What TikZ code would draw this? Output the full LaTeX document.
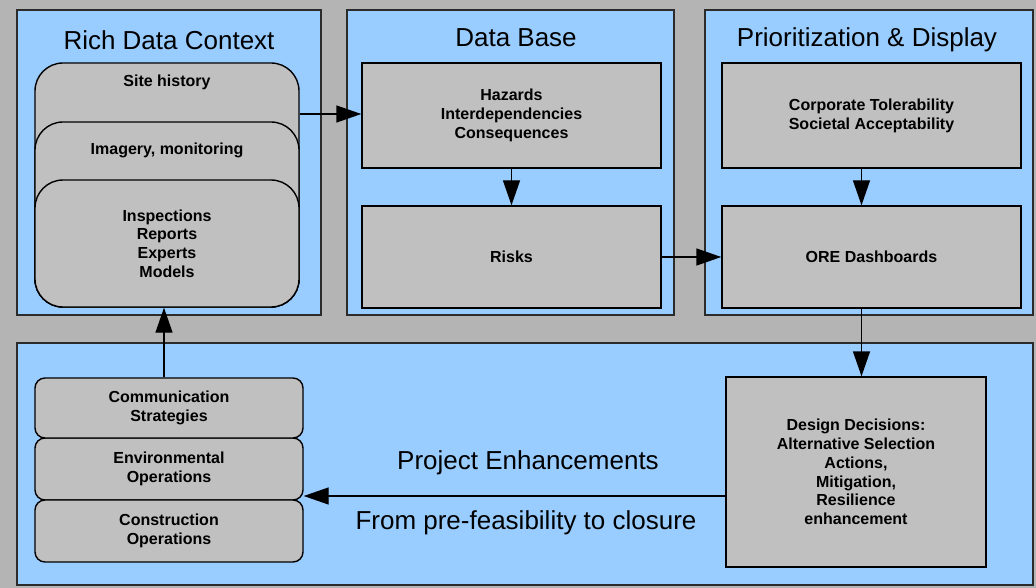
\documentclass[tikz,border=0pt]{standalone}
\usepackage{fontspec}
\setmainfont{Liberation Sans}
\usetikzlibrary{arrows.meta,calc}
\definecolor{bggray}{HTML}{B4B4B4}
\definecolor{panelblue}{HTML}{99CCFF}
\definecolor{boxgray}{HTML}{C0C0C0}
\definecolor{edgedark}{HTML}{2B2B2B}
\begin{document}
\begin{tikzpicture}[x=1pt,y=-1pt,
  panel/.style={draw=edgedark,line width=1.4pt,fill=panelblue,inner sep=0pt,minimum width=#1},
  title/.style={font=\fontsize{26}{30}\selectfont,text=black},
  sq/.style={draw=black,line width=1.4pt,fill=boxgray,inner sep=0pt,align=center,
    font=\fontsize{16}{18.8}\selectfont\bfseries},
  rbig/.style={sq,rounded corners=28pt},
  rsmall/.style={sq,rounded corners=10pt},
  lbl/.style={font=\fontsize{16}{18.8}\selectfont\bfseries,align=center,inner sep=0pt},
  big/.style={font=\fontsize{26}{30}\selectfont,inner sep=0pt},
  arr/.style={line width=1.4pt,-{Triangle[length=25pt,width=17pt]}}
]
\fill[bggray] (0,0) rectangle (1036,588);
\useasboundingbox (0,0) rectangle (1036,588);

% panels
\node[panel=304pt,minimum height=305pt] (rich) at (169,162.5) {};
\node[panel=327pt,minimum height=305pt] (db) at (510.5,162.5) {};
\node[panel=328pt,minimum height=305pt] (prio) at (869,162.5) {};
\node[panel=1016pt,minimum height=242pt] (bottom) at (525,464) {};

% titles
\node[title] (richT) at (169,40) {Rich Data Context};
\node[title] (dbT) at (516,38) {Data Base};
\node[title] (prioT) at (867,40) {Prioritization \& Display};

% rich data stack
\node[rbig,minimum width=264pt,minimum height=244pt] (site) at (167,185) {};
\node[lbl] (siteT) at (167,82) {Site history};
\node[rbig,minimum width=264pt,minimum height=185pt] (imag) at (167,214.5) {};
\node[lbl] (imagT) at (167,150) {Imagery, monitoring};
\node[rbig,minimum width=264pt,minimum height=127pt] (insp) at (167,243.5) {Inspections\\Reports\\Experts\\Models};

% data base
\node[sq,minimum width=299pt,minimum height=105pt] (haz) at (511.5,115.5) {Hazards\\Interdependencies\\Consequences};
\node[sq,minimum width=299pt,minimum height=102pt] (risk) at (511.5,257) {Risks};

% prioritization
\node[sq,minimum width=299pt,minimum height=105pt] (corp) at (871.5,115.5) {Corporate Tolerability\\Societal Acceptability};
\node[sq,minimum width=299pt,minimum height=102pt] (ore) at (871.5,257) {ORE Dashboards};

% design decisions
\node[sq,minimum width=260pt,minimum height=190pt] (design) at (856,472) {Design Decisions:\\Alternative Selection\\Actions,\\Mitigation,\\Resilience\\enhancement};

% left stack
\node[rsmall,minimum width=268pt,minimum height=62pt] (env) at (169,469) {Environmental\\Operations};
\node[rsmall,minimum width=268pt,minimum height=62pt] (cons) at (169,531) {Construction\\Operations};
\node[rsmall,minimum width=268pt,minimum height=60pt] (comm) at (169,408) {Communication\\Strategies};

% labels
\node[big] (projT) at (528,463) {Project Enhancements};
\node[big] (fromT) at (526,523) {From pre-feasibility to closure};

% connectors
\draw[arr] ($(haz.west -| site.east)+(0,-1.5)$) -- ($(haz.west)+(0,-1.5)$);
\draw[arr] (haz.south) -- (risk.north);
\draw[arr] (risk.east) -- (ore.west);
\draw[arr] ([xshift=-10pt]corp.south) -- ([xshift=-10pt]ore.north);
\draw[arr] ([xshift=-10pt]ore.south) -- ([xshift=-10pt]ore.south |- design.north);
\draw[arr] ([xshift=-5pt]comm.north) -- ([xshift=-5pt]comm.north |- insp.south);
\coordinate (dl) at ([yshift=-24pt]design.west);
\draw[arr] (dl) -- (dl -| env.east);
\end{tikzpicture}
\end{document}
